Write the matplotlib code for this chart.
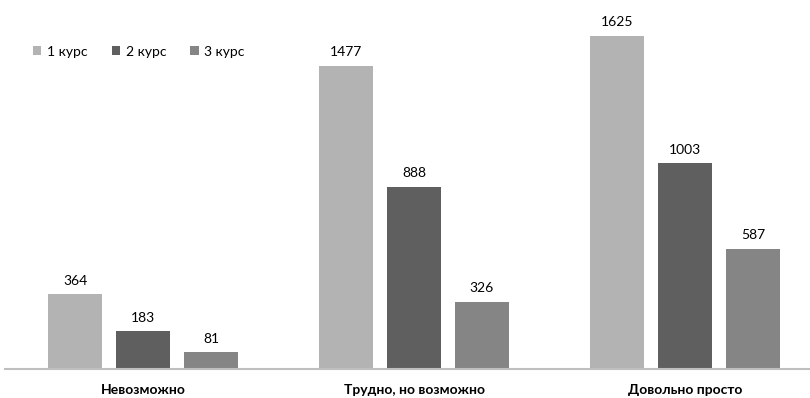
import matplotlib
matplotlib.use('Agg')
import matplotlib.pyplot as plt
import numpy as np

# Survey answers by year of study
categories = ['Невозможно', 'Трудно, но возможно', 'Довольно просто']
series_names = ['1 курс', '2 курс', '3 курс']
course1 = [364, 1477, 1625]
course2 = [183, 888, 1003]
course3 = [81, 326, 587]

colors = ['#b3b3b3', '#5f5f5f', '#858585']

plt.rcParams['font.family'] = ['Lato', 'DejaVu Sans']

fig = plt.figure(figsize=(8.1, 3.98), dpi=100)
# plot area runs a little past the right edge
ax = fig.add_axes([7.5 / 810, 29 / 398, 813 / 810, 369 / 398])

x = np.arange(len(categories))
step = 68 / 271
width = 54 / 271

for i, (name, vals) in enumerate(zip(series_names, [course1, course2, course3])):
    pos = x + (i - 1) * step
    bars = ax.bar(pos, vals, width, color=colors[i], label=name)
    for p, v in zip(pos, vals):
        ax.text(p, v + 38, str(v), ha='center', va='bottom', fontsize=10, color='#000000')

ax.set_xlim(-0.5, 2.5)
ax.set_ylim(0, 1800)
ax.set_yticks([])
ax.set_xticks(x)
ax.set_xticklabels(categories, fontsize=10, fontweight='bold')
ax.tick_params(axis='x', length=0, pad=11)

for side in ['top', 'right', 'left']:
    ax.spines[side].set_visible(False)
ax.spines['bottom'].set_color('#bfbfbf')
ax.spines['bottom'].set_linewidth(1.5)
ax.spines['bottom'].set_bounds(-0.51, 2.5)

ax.legend(loc='upper left', bbox_to_anchor=(20 / 813, 1 - 40 / 369), ncol=3,
          frameon=False, fontsize=10, handlelength=0.6, handleheight=0.6,
          handletextpad=0.4, columnspacing=1.75, borderaxespad=0)

fig.savefig('out.png', dpi=100)
